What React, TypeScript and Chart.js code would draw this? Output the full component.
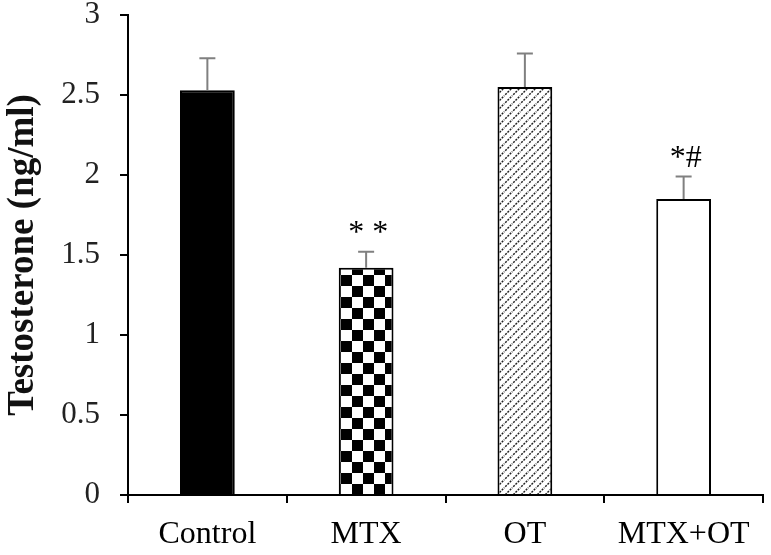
import React, { useEffect, useRef } from "react";
import { Chart, registerables } from "chart.js";

Chart.register(...registerables);

const categories = ["Control", "MTX", "OT", "MTX+OT"];
const means = [2.53, 1.42, 2.55, 1.85];
const errors = [0.2, 0.1, 0.21, 0.14];
const marks = ["", "* *", "", "*#"];
const yTicks = [0, 0.5, 1, 1.5, 2, 2.5, 3];
const yTitle = "Testosterone (ng/ml)";

const SERIF = '"Liberation Serif", "Times New Roman", serif';

function checkerPattern(ctx: CanvasRenderingContext2D) {
  const s = 11;
  const c = document.createElement("canvas");
  c.width = 2 * s;
  c.height = 2 * s;
  const g = c.getContext("2d")!;
  g.fillStyle = "#fff";
  g.fillRect(0, 0, 2 * s, 2 * s);
  g.fillStyle = "#000";
  g.fillRect(0, 0, s, s);
  g.fillRect(s, s, s, s);
  return ctx.createPattern(c, "repeat")!;
}

function hatchPattern(ctx: CanvasRenderingContext2D) {
  const s = 8;
  const c = document.createElement("canvas");
  c.width = s;
  c.height = s;
  const g = c.getContext("2d")!;
  g.fillStyle = "#fff";
  g.fillRect(0, 0, s, s);
  g.strokeStyle = "#222";
  g.lineWidth = 1.5;
  g.setLineDash([2, 1.2]);
  g.beginPath();
  g.moveTo(-1, s + 1);
  g.lineTo(s + 1, -1);
  g.stroke();
  g.setLineDash([]);
  g.lineWidth = 1.2;
  g.beginPath();
  g.moveTo(-1, 1);
  g.lineTo(1, -1);
  g.moveTo(s - 1, s + 1);
  g.lineTo(s + 1, s - 1);
  g.stroke();
  return ctx.createPattern(c, "repeat")!;
}

const errorBarPlugin = {
  id: "errorBars",
  afterDatasetsDraw(chart: any) {
    const ctx = chart.ctx as CanvasRenderingContext2D;
    const meta = chart.getDatasetMeta(0);
    const yScale = chart.scales.y;
    ctx.save();
    meta.data.forEach((bar: any, i: number) => {
      const x = bar.x;
      const yTop = yScale.getPixelForValue(means[i]);
      const yErr = yScale.getPixelForValue(means[i] + errors[i]);
      ctx.strokeStyle = "#808080";
      ctx.lineWidth = 2;
      ctx.beginPath();
      ctx.moveTo(x, yTop);
      ctx.lineTo(x, yErr);
      ctx.moveTo(x - 8, yErr);
      ctx.lineTo(x + 8, yErr);
      ctx.stroke();
      if (marks[i]) {
        ctx.fillStyle = "#000";
        ctx.font = `32px ${SERIF}`;
        ctx.textAlign = "center";
        ctx.textBaseline = "alphabetic";
        ctx.fillText(marks[i], x + 2, yErr - 10);
      }
    });
    ctx.restore();
  },
};

export default function App() {
  const ref = useRef<HTMLCanvasElement | null>(null);

  useEffect(() => {
    const canvas = ref.current!;
    const ctx = canvas.getContext("2d")!;
    const fills = ["#000000", checkerPattern(ctx), hatchPattern(ctx), "#ffffff"];
    const chart = new Chart(canvas, {
      type: "bar",
      data: {
        labels: categories,
        datasets: [
          {
            data: means,
            backgroundColor: fills as any,
            borderColor: "#000",
            borderWidth: 2,
            categoryPercentage: 1,
            barPercentage: 0.345,
          },
        ],
      },
      options: {
        responsive: false,
        animation: false,
        layout: { padding: { left: 0, right: 8, top: 15, bottom: 0 } },
        plugins: {
          legend: { display: false },
          tooltip: { enabled: false },
        },
        scales: {
          x: {
            grid: {
              display: true,
              drawOnChartArea: false,
              drawTicks: true,
              tickLength: 8,
              color: "#000",
              lineWidth: 2,
              offset: true,
            },
            border: { display: true, color: "#000", width: 2 },
            ticks: {
              color: "#000",
              padding: 12,
              maxRotation: 0,
              font: { family: SERIF, size: 32 },
            },
            afterFit: (s: any) => {
              s.height = 60;
              s.paddingLeft = 0;
              s.paddingRight = 0;
            },
          },
          y: {
            min: 0,
            max: 3,
            afterBuildTicks: (s: any) => {
              s.ticks = yTicks.map((v) => ({ value: v }));
            },
            grid: {
              display: true,
              drawOnChartArea: false,
              drawTicks: true,
              tickLength: 8,
              color: "#000",
              lineWidth: 2,
            },
            border: { display: true, color: "#000", width: 2 },
            ticks: {
              color: "#222",
              padding: 20,
              font: { family: SERIF, size: 31 },
              callback: (v: any) => String(v),
            },
            title: {
              display: true,
              text: yTitle,
              color: "#111",
              padding: { top: 1, bottom: 0 },
              font: { family: SERIF, size: 37, weight: "bold" },
            },
            afterFit: (s: any) => {
              s.width = 128;
              s.paddingTop = 0;
              s.paddingBottom = 0;
            },
          },
        },
      },
      plugins: [errorBarPlugin],
    });
    return () => chart.destroy();
  }, []);

  return (
    <div style={{ position: "absolute", left: 0, top: 0, width: 771, height: 555, background: "#fff" }}>
      <canvas ref={ref} width={771} height={555} style={{ display: "block" }} />
    </div>
  );
}
